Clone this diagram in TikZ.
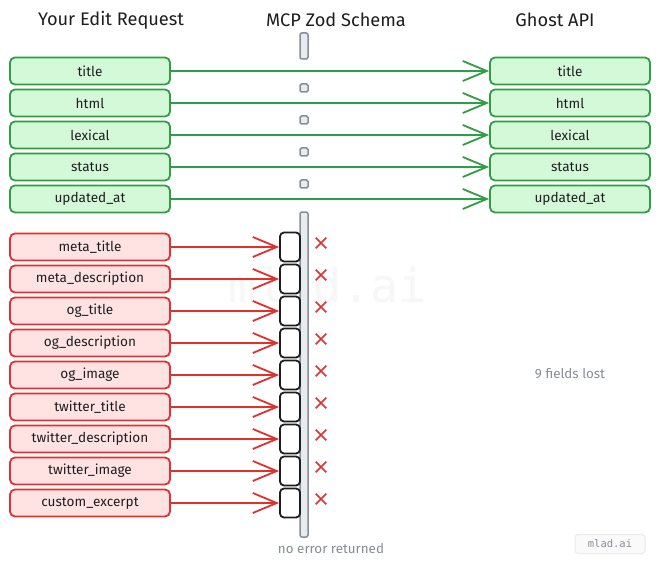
\documentclass[tikz,border=0pt]{standalone}
\usepackage{fontspec}
\setmainfont{Fira Sans}
\setmonofont{DejaVu Sans Mono}
\usetikzlibrary{arrows.meta,shapes.misc}
\definecolor{gstroke}{HTML}{2F9E44}
\definecolor{gfill}{HTML}{D3F9D8}
\definecolor{rstroke}{HTML}{E03131}
\definecolor{rfill}{HTML}{FFE3E3}
\definecolor{barfill}{HTML}{E9ECEF}
\definecolor{barstroke}{HTML}{868E96}
\definecolor{graytxt}{HTML}{868E96}
\definecolor{inktxt}{HTML}{1E1E1E}
\tikzset{
  field/.style={draw, line width=1.8pt, rounded corners=5pt, minimum width=160pt, minimum height=27pt, inner sep=0pt, font=\fontsize{13.6}{15}\selectfont, text=inktxt},
  okfield/.style={field, draw=gstroke, fill=gfill},
  badfield/.style={field, draw=rstroke, fill=rfill},
  okarrow/.style={color=gstroke, line width=1.8pt, -{Straight Barb[length=24pt,width=20pt,line width=1.8pt]}},
  badarrow/.style={color=rstroke, line width=1.8pt, -{Straight Barb[length=24pt,width=20pt,line width=1.8pt]}},
  slot/.style={draw=inktxt, fill=white, line width=1.8pt, rounded corners=4pt, minimum width=20pt, minimum height=29pt, inner sep=0pt},
  bar/.style={draw=barstroke, fill=barfill, line width=1.5pt, rounded corners=2pt},
  dot/.style={draw=barstroke, fill=barfill, line width=1.5pt, rounded corners=1.5pt, minimum width=8pt, minimum height=8pt, inner sep=0pt},
  head/.style={font=\fontsize{18.2}{21}\selectfont, text=inktxt},
  note/.style={font=\fontsize{13.4}{15}\selectfont, text=graytxt},
  xmark/.style={draw=rstroke, cross out, line width=1.7pt, minimum size=9pt, inner sep=0pt}
}
\begin{document}
\begin{tikzpicture}[x=1pt,y=-1pt]
\useasboundingbox (0,0) rectangle (660,569);
\fill[white] (0,0) rectangle (660,569);
% watermark
\node[font=\ttfamily\fontsize{47}{47}\selectfont, text=black!3] (wm) at (328,285) {mlad.ai};
% headers
\node[head] (h1) at (111,20) {Your Edit Request};
\node[head] (h2) at (336,20) {MCP Zod Schema};
\node[head] (h3) at (555,20) {Ghost API};
% schema bar pieces
\draw[bar] (300,33) rectangle (308,59);
\foreach \y/\n in {88/d1,120/d2,152/d3,184/d4}
  \node[dot] (\n) at (304,\y) {};
\draw[bar] (300,212) rectangle (308,537);
% green rows
\foreach \y/\t [count=\i] in {71/title,103/html,135/lexical,167/status,199/updated\_at}{
  \node[okfield] (l\i) at (90,\y) {\t};
  \node[okfield] (r\i) at (570,\y) {\t};
  \draw[okarrow] (l\i.east) -- (r\i.west);
}
% red rows
\foreach \y/\t [count=\i] in {247/meta\_title,279/meta\_description,311/og\_title,343/og\_description,375/og\_image,407/twitter\_title,439/twitter\_description,471/twitter\_image,503/custom\_excerpt}{
  \node[badfield] (b\i) at (90,\y) {\t};
  \node[slot] (s\i) at (290,\y) {};
  \draw[badarrow] (b\i.east) -- (s\i.west);
  \node[xmark] (x\i) at (321,\y-4) {};
}
% notes
\node[note] (lost) at (570,373.5) {9 fields lost};
\node[note] (noerr) at (331,549) {no error returned};
\node[draw=black!8, fill=black!2, line width=1pt, rounded corners=3pt, minimum width=70pt, minimum height=19pt, inner sep=0pt, font=\ttfamily\fontsize{10.5}{12}\selectfont, text=graytxt] (badge) at (610,544) {mlad.ai};
\end{tikzpicture}
\end{document}
